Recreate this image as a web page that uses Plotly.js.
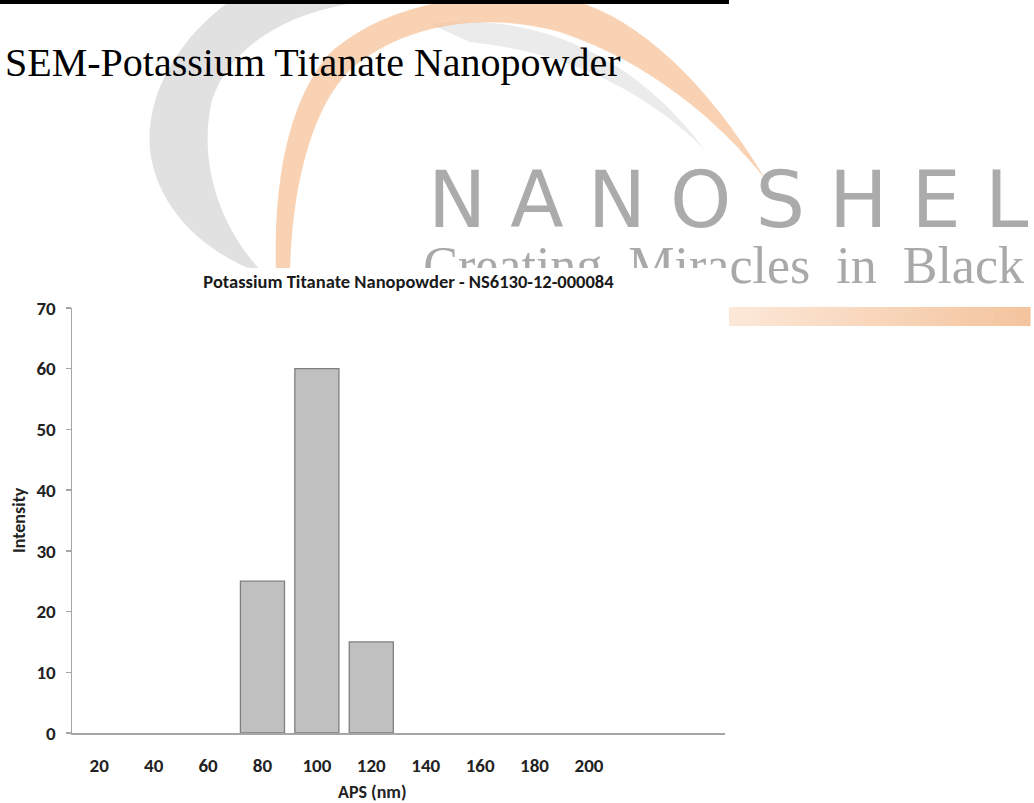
<!DOCTYPE html>
<html>
<head>
<meta charset="utf-8">
<script src="https://cdn.plot.ly/plotly-3.0.1.min.js"></script>
<style>html,body{margin:0;padding:0;background:#ffffff;}</style>
</head>
<body>
<div id="chart" style="width:1034px;height:803px;"></div>
<script>
// ---- data ----
const categories = [20, 40, 60, 80, 100, 120, 140, 160, 180, 200];
const intensity = [0, 0, 0, 25, 60, 15, 0, 0, 0, 0];
const tickLabels = ['20', '40', '60', '80', '100', '120', '140', '160', '180', '200'];
const yTicks = [0, 10, 20, 30, 40, 50, 60, 70];
const chartTitle = 'Potassium Titanate Nanopowder - NS6130-12-000084';
const pageTitle = 'SEM-Potassium Titanate Nanopowder';
const xTitle = 'APS (nm)';
const yTitle = 'Intensity';

// ---- layout geometry (pixels) ----
const W = 1034, H = 803;
const PL = 72, PR = 725, PT = 308, PB = 733;
function pxX(x) { return (x - PL) / (PR - PL); }
function pxY(y) { return (PB - y) / (PB - PT); }
function tp(d) {
  return d.replace(/(-?\d+\.?\d*)\s*,\s*(-?\d+\.?\d*)/g, function (m, a, b) {
    return pxX(+a).toFixed(4) + ',' + pxY(+b).toFixed(4);
  });
}
function rectPx(x0, y0, x1, y1, extra) {
  return Object.assign({type: 'rect', xref: 'paper', yref: 'paper',
    x0: pxX(x0), x1: pxX(x1), y0: pxY(y1), y1: pxY(y0), line: {width: 0}}, extra);
}

const FONT = 'Carlito, Calibri, Lato, sans-serif';
const SERIF = '"Liberation Serif", "Times New Roman", serif';

const shapes = [];
// grey crescent
shapes.push({type: 'path', xref: 'paper', yref: 'paper', layer: 'below',
  path: tp('M258,272 C212,255 158,215 150,150 C145,95 178,35 240,-6 L430,-6 L380,0 C300,6 232,40 212,100 C198,160 218,225 262,272 Z'),
  fillcolor: '#dcdcdc', opacity: 0.85, line: {width: 0}});
// light grey swoosh under orange
shapes.push({type: 'path', xref: 'paper', yref: 'paper', layer: 'below',
  path: tp('M430,24 C530,12 630,50 705,150 C645,90 565,52 470,42 Z'),
  fillcolor: '#e6e6e6', opacity: 0.8, line: {width: 0}});
// orange crescent
shapes.push({type: 'path', xref: 'paper', yref: 'paper', layer: 'below',
  path: tp('M276,272 C274,200 282,110 328,55 C378,8 460,-8 540,-6 C620,0 700,70 766,180 C720,122 650,62 560,32 C480,10 400,26 350,70 C310,110 292,190 290,272 Z'),
  fillcolor: '#f5c096', opacity: 0.72, line: {width: 0}});
// "Creating Miracles in Black" as a shape label (so the chart box can cover it)
shapes.push(rectPx(380, 231, 1027, 287, {layer: 'below', fillcolor: 'rgba(0,0,0,0)',
  label: {text: 'Creating\u00a0 Miracles\u00a0 in\u00a0 Black', textposition: 'middle right', padding: 0,
    font: {family: SERIF, size: 52, color: '#a9a9a9'}}}));
// orange gradient bar
const nStrips = 40;
const c0 = [252, 232, 216], c1 = [244, 196, 158];
for (let i = 0; i < nStrips; i++) {
  const t = i / (nStrips - 1);
  const c = c0.map((v, k) => Math.round(v + (c1[k] - v) * t));
  const x0 = 728 + (1030 - 728) * i / nStrips;
  const x1 = 728 + (1030 - 728) * (i + 1) / nStrips + 0.6;
  shapes.push(rectPx(x0, 307, x1, 326, {layer: 'below', fillcolor: 'rgb(' + c.join(',') + ')'}));
}
// white chart background box
shapes.push(rectPx(-2, 268, 729, 806, {layer: 'below', fillcolor: '#ffffff'}));
// black rule at top
shapes.push(rectPx(0, 0, 729, 4, {layer: 'above', fillcolor: '#000000'}));

const annotations = [
  {text: pageTitle, xref: 'paper', yref: 'paper', x: pxX(3), y: pxY(62), xanchor: 'left', yanchor: 'middle',
   showarrow: false, font: {family: SERIF, size: 40, color: '#000000'}},
  {text: '<span style="letter-spacing:24px">NANOSHE</span>L', xref: 'paper', yref: 'paper', x: pxX(426), y: pxY(200),
   xanchor: 'left', yanchor: 'middle', showarrow: false,
   font: {family: '"DejaVu Sans", sans-serif', size: 78, weight: 'normal', color: '#ababab'}},
  {text: xTitle, xref: 'paper', yref: 'paper', x: pxX(372), y: pxY(792), xanchor: 'center', yanchor: 'middle',
   showarrow: false, font: {family: FONT, size: 18, weight: 'bold', color: '#222222'}},
  {text: yTitle, xref: 'paper', yref: 'paper', x: pxX(19), y: pxY(520), xanchor: 'center', yanchor: 'middle',
   textangle: -90, showarrow: false, font: {family: FONT, size: 18, weight: 'bold', color: '#222222'}}
];

const trace = {
  type: 'bar', x: categories, y: intensity,
  marker: {color: '#c0c0c0', line: {color: '#7f7f7f', width: intensity.map(v => v > 0 ? 1.3 : 0)}},
  hoverinfo: 'x+y'
};

const layout = {
  width: W, height: H,
  margin: {l: PL, r: W - PR, t: PT, b: H - PB, pad: 0},
  paper_bgcolor: '#ffffff', plot_bgcolor: 'rgba(0,0,0,0)',
  showlegend: false,
  bargap: 0.19,
  title: {text: chartTitle, xref: 'container', yref: 'container', x: 408.5 / W, y: 1 - 282 / H,
    xanchor: 'center', yanchor: 'middle',
    font: {family: FONT, size: 18.5, weight: 'bold', color: '#1a1a1a'}},
  xaxis: {range: [10, 250], tickvals: categories, ticktext: tickLabels, showgrid: false, zeroline: false,
    showline: true, linecolor: '#a6a6a6', linewidth: 2, ticks: '', ticklabelstandoff: 14,
    tickfont: {family: FONT, size: 19, weight: 'bold', color: '#222222'}, fixedrange: true},
  yaxis: {range: [0, 70], tickvals: yTicks, showgrid: false, zeroline: false,
    showline: true, linecolor: '#a6a6a6', linewidth: 1.5, ticks: 'outside', ticklen: 5,
    tickcolor: '#a6a6a6', tickwidth: 1.3, ticklabelstandoff: 6,
    tickfont: {family: FONT, size: 19, weight: 'bold', color: '#222222'}, fixedrange: true},
  shapes: shapes,
  annotations: annotations
};

Plotly.newPlot('chart', [trace], layout, {displayModeBar: false, staticPlot: true});
</script>
</body>
</html>
